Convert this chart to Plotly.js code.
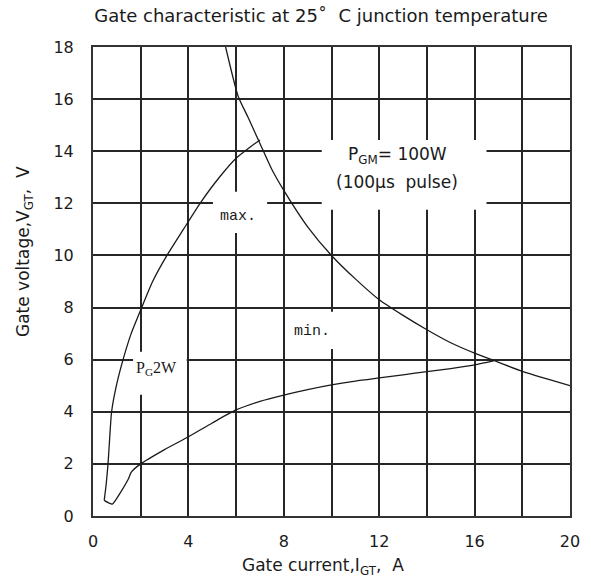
<!DOCTYPE html>
<html><head><meta charset="utf-8">
<script src="https://cdn.plot.ly/plotly-3.0.1.min.js"></script>
<style>html,body{margin:0;padding:0;background:#fff}#chart{width:591px;height:586px}</style>
</head><body><div id="chart"></div>
<script>
// Gate current (A) / gate voltage (V)
var pgmCurrent = [5.56, 6.09, 6.5, 7.0, 7.5, 8.0, 9.0, 10.0, 11.0, 12.0, 13.0, 14.0, 15.0, 16.0, 17.0, 18.0, 19.0, 20.0];
var pgmVoltage = [18.0, 16.1, 15.3, 14.3, 13.3, 12.5, 11.1, 10.0, 9.1, 8.3, 7.7, 7.15, 6.65, 6.25, 5.9, 5.55, 5.27, 5.0];

var maxCurrent = [0.47, 0.55, 0.63, 0.70, 0.78, 0.98, 1.26, 1.60, 2.04, 2.50, 3.10, 3.79, 4.49, 5.30, 6.00, 6.65, 7.00];
var maxVoltage = [0.60, 1.20, 2.00, 3.00, 4.00, 5.00, 6.00, 7.00, 8.00, 9.00, 10.0, 11.0, 12.0, 13.0, 13.73, 14.2, 14.43];

var minCurrent = [0.47, 0.81, 1.13, 1.46, 1.62, 2.0, 3.0, 4.0, 5.0, 6.0, 7.0, 8.0, 9.0, 10.0, 11.0, 12.0, 13.0, 14.0, 15.0, 16.0, 16.8];
var minVoltage = [0.60, 0.46, 0.87, 1.38, 1.70, 2.0, 2.55, 3.04, 3.57, 4.07, 4.40, 4.64, 4.85, 5.03, 5.18, 5.30, 5.42, 5.54, 5.66, 5.80, 5.95];

var xTicks = [0, 4, 8, 12, 16, 20];
var xMinorTicks = [2, 6, 10, 14, 18];
var yTicks = [0, 2, 4, 6, 8, 10, 12, 14, 16, 18];

var lineStyle = {color: '#1a1a1a', width: 1.3};
var traces = [
  {x: pgmCurrent, y: pgmVoltage, mode: 'lines', line: Object.assign({shape: 'spline', smoothing: 0.6}, lineStyle), hoverinfo: 'skip'},
  {x: maxCurrent, y: maxVoltage, mode: 'lines', line: Object.assign({shape: 'spline', smoothing: 0.6}, lineStyle), hoverinfo: 'skip'},
  {x: minCurrent, y: minVoltage, mode: 'lines', line: Object.assign({shape: 'spline', smoothing: 0.6}, lineStyle), hoverinfo: 'skip'}
];

var sansFont = 'DejaVu Sans, Verdana, sans-serif';
var monoFont = 'Liberation Mono, Courier New, monospace';
var txt = '#1a1a1a';
var gridCol = '#262626';

function box(x0, x1, y0, y1) {
  return {type: 'rect', xref: 'x', yref: 'y', x0: x0, x1: x1, y0: y0, y1: y1,
          fillcolor: '#ffffff', line: {width: 0}, layer: 'between'};
}

var layout = {
  width: 591, height: 586,
  margin: {l: 93, r: 21, t: 47, b: 70},
  paper_bgcolor: '#fff', plot_bgcolor: '#fff',
  showlegend: false,
  title: {text: 'Gate characteristic at 25\u02da\u00a0 C junction temperature',
          font: {family: sansFont, size: 18, color: txt},
          xref: 'container', yref: 'container', x: 321 / 591, y: 1 - 16 / 586,
          xanchor: 'center', yanchor: 'middle'},
  xaxis: {range: [0, 20], tickvals: xTicks, ticktext: xTicks.map(String),
          showgrid: true, gridcolor: gridCol, gridwidth: 2,
          minor: {tickvals: xMinorTicks, showgrid: true, gridcolor: gridCol, gridwidth: 2, ticks: ''},
          showline: true, mirror: true, linecolor: '#333', linewidth: 2,
          ticks: '', ticklabelstandoff: 10, zeroline: false,
          tickfont: {family: sansFont, size: 16, color: txt}, fixedrange: true},
  yaxis: {range: [0, 18], tickvals: yTicks, ticktext: yTicks.map(String),
          showgrid: true, gridcolor: gridCol, gridwidth: 2,
          showline: true, mirror: true, linecolor: '#333', linewidth: 2,
          ticks: '', ticklabelstandoff: 14, zeroline: false,
          tickfont: {family: sansFont, size: 16, color: txt}, fixedrange: true},
  shapes: [
    box(9.59, 16.5, 11.75, 14.43),
    box(5.03, 7.3, 10.86, 12.44),
    box(8.2, 10.55, 6.41, 7.84),
    box(1.68, 3.93, 4.65, 6.3)
  ],
  annotations: [
    {text: 'P<sub>GM</sub>= 100W', x: 12.75, y: 13.85, xref: 'x', yref: 'y', showarrow: false,
     font: {family: sansFont, size: 17, color: txt}, xanchor: 'center', yanchor: 'middle'},
    {text: '(100\u03bcs\u00a0 pulse)', x: 12.75, y: 12.8, xref: 'x', yref: 'y', showarrow: false,
     font: {family: sansFont, size: 17, color: txt}, xanchor: 'center', yanchor: 'middle'},
    {text: 'max.', x: 6.08, y: 11.5, xref: 'x', yref: 'y', showarrow: false,
     font: {family: monoFont, size: 15, color: txt}, xanchor: 'center', yanchor: 'middle'},
    {text: 'min.', x: 9.17, y: 7.07, xref: 'x', yref: 'y', showarrow: false,
     font: {family: monoFont, size: 15, color: txt}, xanchor: 'center', yanchor: 'middle'},
    {text: 'P<sub>G</sub>2W', x: 2.67, y: 5.65, xref: 'x', yref: 'y', showarrow: false,
     font: {family: 'Liberation Serif, serif', size: 16, color: txt}, xanchor: 'center', yanchor: 'middle'},
    {text: 'Gate current,I<sub>GT</sub>,\u00a0 A', xref: 'paper', yref: 'paper',
     x: (323 - 93) / 477, y: -(566 - 516) / 469, showarrow: false,
     font: {family: sansFont, size: 17, color: txt}, xanchor: 'center', yanchor: 'middle'},
    {text: 'Gate voltage,V<sub>GT</sub>,\u00a0 V', xref: 'paper', yref: 'paper',
     x: (24 - 93) / 477, y: (516 - 252) / 469, textangle: -90, showarrow: false,
     font: {family: sansFont, size: 17, color: txt}, xanchor: 'center', yanchor: 'middle'}
  ]
};

Plotly.newPlot('chart', traces, layout, {displayModeBar: false, staticPlot: true});
</script>
</body></html>
